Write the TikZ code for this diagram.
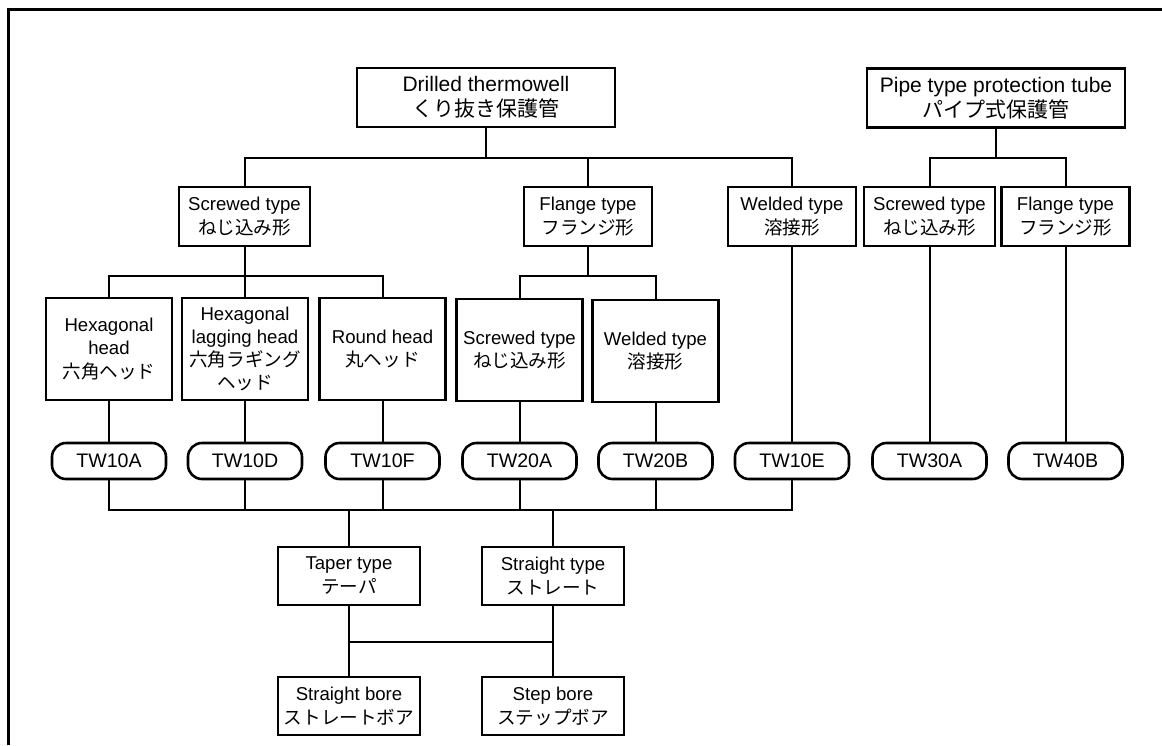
\documentclass[tikz,border=0pt]{standalone}
\usepackage{fontspec}
\setmainfont{Liberation Sans}
\newfontfamily\jp{Noto Sans CJK JP}
\tikzset{
  box/.style={draw, line width=1.3pt, align=center, inner sep=0pt, font=\fontsize{9.3}{12}\selectfont},
  topbox/.style={box, minimum width=129pt, minimum height=29.5pt, font=\fontsize{10.5}{12.5}\selectfont},
  typebox/.style={box, minimum width=64pt, minimum height=29.5pt},
  headbox/.style={box, minimum width=63pt, minimum height=51pt, font=\fontsize{9.3}{11.6}\selectfont},
  boxlow/.style={box, minimum width=71pt, minimum height=29pt},
  model/.style={draw, line width=1.3pt, rounded corners=7pt, minimum width=57pt, minimum height=18pt, inner sep=0pt, font=\fontsize{9.8}{12}\selectfont},
  link/.style={line width=1pt, line cap=rect}
}
\begin{document}
\begin{tikzpicture}[x=0.5pt, y=-0.5pt]
  \useasboundingbox (0,0) rectangle (1162,745);
  \draw[line width=1.5pt] (8,745) -- (8,9) -- (1162,9);

  \node[topbox] (drill) at (486,97.5) {Drilled thermowell\\{\jp くり抜き保護管}};
  \node[topbox] (pipe) at (996,98) {Pipe type protection tube\\{\jp パイプ式保護管}};

  \node[typebox, minimum width=65.5pt] (scr) at (244.5,216.5) {Screwed type\\{\jp ねじ込み形}};
  \node[typebox] (fla) at (588,216.5) {Flange type\\{\jp フランジ形}};
  \node[typebox] (wel) at (792,216.5) {Welded type\\{\jp 溶接形}};
  \node[typebox, minimum width=65.5pt] (pscr) at (929.5,216.5) {Screwed type\\{\jp ねじ込み形}};
  \node[typebox] (pfla) at (1065.5,216.5) {Flange type\\{\jp フランジ形}};

  \node[headbox] (hex) at (109,349) {Hexagonal\\head\\{\jp 六角ヘッド}};
  \node[headbox] (hexlag) at (245,349) {Hexagonal\\lagging head\\{\jp 六角ラギング}\\{\jp ヘッド}};
  \node[headbox] (round) at (382.5,349) {Round head\\{\jp 丸ヘッド}};
  \node[headbox] (fscr) at (519.5,350) {Screwed type\\{\jp ねじ込み形}};
  \node[headbox] (fwel) at (655.5,351) {Welded type\\{\jp 溶接形}};

  \node[model] (tw10a) at (109,461) {TW10A};
  \node[model] (tw10d) at (245,461) {TW10D};
  \node[model] (tw10f) at (382.5,461) {TW10F};
  \node[model] (tw20a) at (519.5,461) {TW20A};
  \node[model] (tw20b) at (655.5,461) {TW20B};
  \node[model] (tw10e) at (792,461) {TW10E};
  \node[model] (tw30a) at (929.5,461) {TW30A};
  \node[model] (tw40b) at (1065.5,461) {TW40B};

  \node[boxlow] (taper) at (349,576) {Taper type\\{\jp テーパ}};
  \node[boxlow] (straight) at (553,576) {Straight type\\{\jp ストレート}};
  \node[boxlow] (sbore) at (349,706) {Straight bore\\{\jp ストレートボア}};
  \node[boxlow] (stbore) at (553,706) {Step bore\\{\jp ステップボア}};

  \draw[link] (drill.south) -- +(0,30) coordinate (dbus);
  \draw[link] (scr.north) |- (dbus) -| (wel.north);
  \draw[link] (fla.north) -- (fla.north |- dbus);
  \draw[link] (pipe.south) -- +(0,29) coordinate (pbus);
  \draw[link] (pscr.north) |- (pbus) -| (pfla.north);

  \draw[link] (scr.south) -- +(0,29) coordinate (sbus);
  \draw[link] (hex.north) |- (sbus) -| (round.north);
  \draw[link] (hexlag.north) -- (hexlag.north |- sbus);
  \draw[link] (fla.south) -- +(0,29) coordinate (fbus);
  \draw[link] (fscr.north) |- (fbus) -| (fwel.north);

  \draw[link] (hex) -- (tw10a);
  \draw[link] (hexlag) -- (tw10d);
  \draw[link] (round) -- (tw10f);
  \draw[link] (fscr) -- (tw20a);
  \draw[link] (fwel) -- (tw20b);
  \draw[link] (wel) -- (tw10e);
  \draw[link] (pscr) -- (tw30a);
  \draw[link] (pfla) -- (tw40b);

  \coordinate (mbus) at (0,510);
  \foreach \n in {tw10a,tw10d,tw10f,tw20a,tw20b,tw10e}
    \draw[link] (\n) -- (\n |- mbus);
  \draw[link] (tw10a |- mbus) -- (tw10e |- mbus);
  \draw[link] (taper) -- (taper |- mbus);
  \draw[link] (straight) -- (straight |- mbus);

  \coordinate (lbus) at (0,642);
  \draw[link] (taper) -- (sbore);
  \draw[link] (straight) -- (stbore);
  \draw[link] (taper |- lbus) -- (straight |- lbus);
\end{tikzpicture}
\end{document}
